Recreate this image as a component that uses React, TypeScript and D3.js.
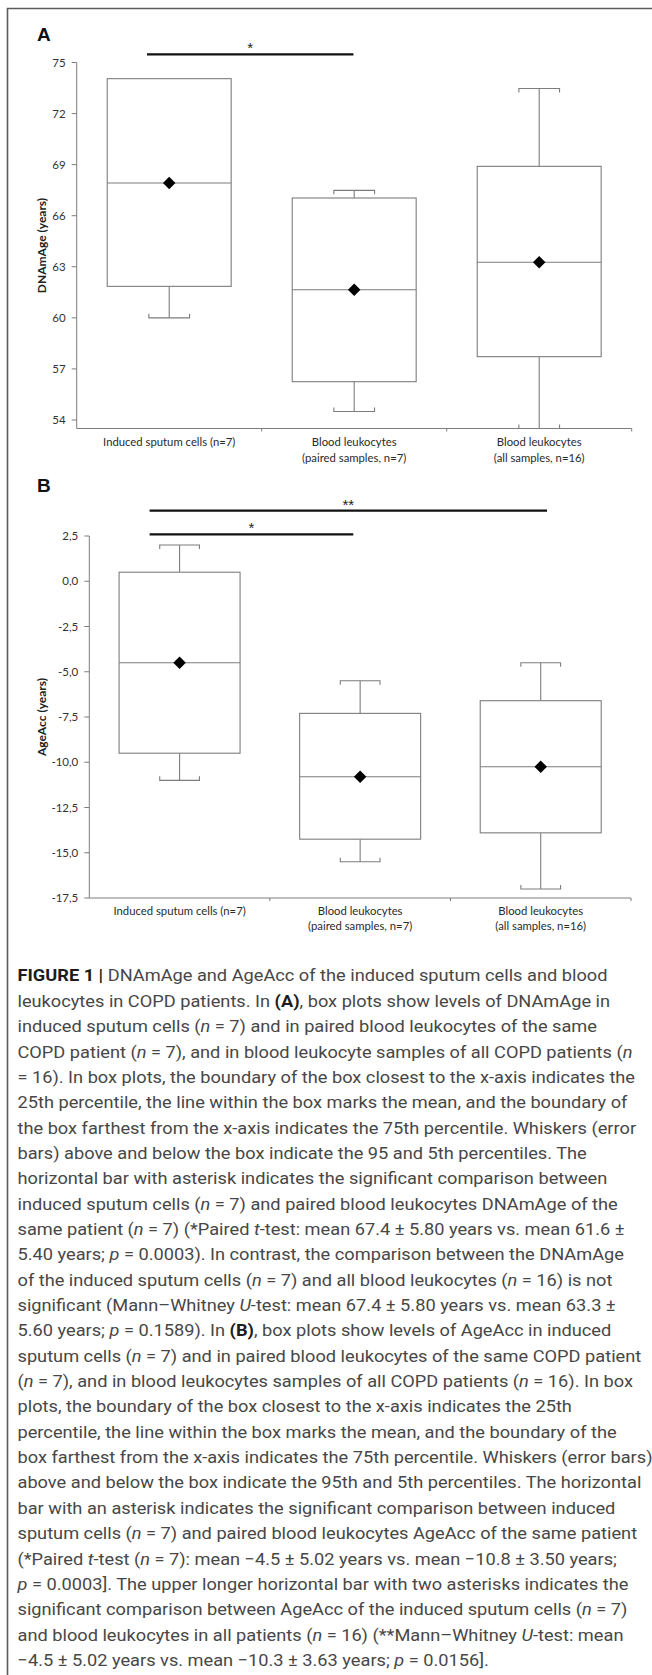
import { useLayoutEffect, useRef, useState } from 'react';
import * as d3 from 'd3';

// x categories shared by both panels (one entry per label line)
const categories = [
  ['Induced sputum cells (n=7)'],
  ['Blood leukocytes', '(paired samples, n=7)'],
  ['Blood leukocytes', '(all samples, n=16)'],
];

// Panel A – DNAmAge (years)
const dnamTicks = [54, 57, 60, 63, 66, 69, 72, 75];
const dnamP5 = [60.0, 54.5, 53.5];
const dnamQ1 = [61.85, 56.25, 57.72];
const dnamMean = [67.92, 61.65, 63.27];
const dnamQ3 = [74.05, 67.04, 68.9];
const dnamP95 = [73.98, 67.49, 73.47];
const dnamSig = [{ from: 0, to: 1, label: '*' }];

// Panel B – AgeAcc (years)
const accTicks = [-17.5, -15, -12.5, -10, -7.5, -5, -2.5, 0, 2.5];
const accP5 = [-11.0, -15.5, -17.0];
const accQ1 = [-9.5, -14.25, -13.9];
const accMean = [-4.5, -10.8, -10.25];
const accQ3 = [0.5, -7.3, -6.6];
const accP95 = [2.0, -5.5, -4.5];
const accSig = [
  { from: 0, to: 1, label: '*' },
  { from: 0, to: 2, label: '**' },
];

const captionLines = [
  '<b>FIGURE 1 |</b> DNAmAge and AgeAcc of the induced sputum cells and blood',
  'leukocytes in COPD patients. In <b>(A)</b>, box plots show levels of DNAmAge in',
  'induced sputum cells (<i>n</i> = 7) and in paired blood leukocytes of the same',
  'COPD patient (<i>n</i> = 7), and in blood leukocyte samples of all COPD patients (<i>n</i>',
  '= 16). In box plots, the boundary of the box closest to the x-axis indicates the',
  '25th percentile, the line within the box marks the mean, and the boundary of',
  'the box farthest from the x-axis indicates the 75th percentile. Whiskers (error',
  'bars) above and below the box indicate the 95 and 5th percentiles. The',
  'horizontal bar with asterisk indicates the significant comparison between',
  'induced sputum cells (<i>n</i> = 7) and paired blood leukocytes DNAmAge of the',
  'same patient (<i>n</i> = 7) (*Paired <i>t</i>-test: mean 67.4 ± 5.80 years vs. mean 61.6 ±',
  '5.40 years; <i>p</i> = 0.0003). In contrast, the comparison between the DNAmAge',
  'of the induced sputum cells (<i>n</i> = 7) and all blood leukocytes (<i>n</i> = 16) is not',
  'significant (Mann–Whitney <i>U</i>-test: mean 67.4 ± 5.80 years vs. mean 63.3 ±',
  '5.60 years; <i>p</i> = 0.1589). In <b>(B)</b>, box plots show levels of AgeAcc in induced',
  'sputum cells (<i>n</i> = 7) and in paired blood leukocytes of the same COPD patient',
  '(<i>n</i> = 7), and in blood leukocytes samples of all COPD patients (<i>n</i> = 16). In box',
  'plots, the boundary of the box closest to the x-axis indicates the 25th',
  'percentile, the line within the box marks the mean, and the boundary of the',
  'box farthest from the x-axis indicates the 75th percentile. Whiskers (error bars)',
  'above and below the box indicate the 95th and 5th percentiles. The horizontal',
  'bar with an asterisk indicates the significant comparison between induced',
  'sputum cells (<i>n</i> = 7) and paired blood leukocytes AgeAcc of the same patient',
  '(*Paired <i>t</i>-test (<i>n</i> = 7): mean −4.5 ± 5.02 years vs. mean −10.8 ± 3.50 years;',
  '<i>p</i> = 0.0003]. The upper longer horizontal bar with two asterisks indicates the',
  'significant comparison between AgeAcc of the induced sputum cells (<i>n</i> = 7)',
  'and blood leukocytes in all patients (<i>n</i> = 16) (**Mann–Whitney <i>U</i>-test: mean',
  '−4.5 ± 5.02 years vs. mean −10.3 ± 3.63 years; <i>p</i> = 0.0156].',
];

const W = 652;
const H = 1675;
const CHART_FONT = 'Lato, "Open Sans", sans-serif';
const GREY = '#7d7d7d';

interface Sig { from: number; to: number; label: string }

interface PanelProps {
  letter: string;
  letterY: number;
  yTitle: string;
  ticks: number[];
  fmt: (v: number) => string;
  domain: [number, number];
  left: number;
  right: number;
  top: number;
  bottom: number;
  p5: number[];
  q1: number[];
  mean: number[];
  q3: number[];
  p95: number[];
  sig: Sig[];
  sigRise: number[];
  sigStart: number;
  sigEnd: number[];
  labelGap: number;
}

function BoxPanel(p: PanelProps) {
  const x = d3.scaleBand<number>().domain(d3.range(categories.length)).range([p.left, p.right]);
  const y = d3.scaleLinear().domain(p.domain).range([p.bottom, p.top]);
  const bw = x.bandwidth();
  const boxW = bw * 0.67;
  const capW = bw * 0.22;
  const diamond = d3.symbol(d3.symbolSquare, 78)();
  const cx = (i: number) => (x(i) as number) + bw / 2;

  return (
    <g>
      <text x={37} y={p.letterY} fontFamily='"Liberation Sans", Arial, sans-serif' fontWeight="bold" fontSize={19} fill="#111">
        {p.letter}
      </text>

      {/* significance bars */}
      {p.sig.map((s, k) => {
        const x1 = (x(s.from) as number) + bw * p.sigStart;
        const x2 = (x(s.to) as number) + bw * p.sigEnd[k];
        const yy = p.top - p.sigRise[k];
        return (
          <g key={k}>
            <line x1={x1} x2={x2} y1={yy} y2={yy} stroke="#111" strokeWidth={2.2} />
            <text x={(x1 + x2) / 2} y={yy - 1} textAnchor="middle" fontFamily='"Liberation Sans", Arial, sans-serif' fontSize={15} fill="#222">
              {s.label}
            </text>
          </g>
        );
      })}

      {/* y axis */}
      <line x1={p.left} x2={p.left} y1={y(p.domain[1])} y2={p.bottom} stroke={GREY} strokeWidth={1} />
      {p.ticks.map((t) => (
        <g key={t} transform={`translate(0,${y(t)})`}>
          <line x1={p.left - 5} x2={p.left} stroke={GREY} strokeWidth={1} />
          <text x={p.left - 11} dy="0.36em" textAnchor="end" fontFamily={CHART_FONT} fontSize={11.5} fill="#333">
            {p.fmt(t)}
          </text>
        </g>
      ))}
      <text
        transform={`translate(46,${(p.top + p.bottom) / 2}) rotate(-90)`}
        textAnchor="middle"
        fontFamily={CHART_FONT}
        fontWeight="bold"
        fontSize={12}
        fill="#222"
      >
        {p.yTitle}
      </text>

      {/* x axis */}
      <line x1={p.left} x2={p.right} y1={p.bottom} y2={p.bottom} stroke={GREY} strokeWidth={1} />
      {categories.map((lines, i) => (
        <g key={i}>
          <line x1={(x(i) as number) + bw} x2={(x(i) as number) + bw} y1={p.bottom} y2={p.bottom + 3} stroke={GREY} />
          {lines.map((l, j) => (
            <text key={j} x={cx(i)} y={p.bottom + p.labelGap + j * 15.5} textAnchor="middle" fontFamily={CHART_FONT} fontSize={11.3} fill="#2a2a2a">
              {l}
            </text>
          ))}
        </g>
      ))}

      {/* boxes */}
      {categories.map((_, i) => {
        const c = cx(i);
        const yTop = y(p.q3[i]);
        const yBot = y(p.q1[i]);
        const yHi = y(p.p95[i]);
        const yLo = y(p.p5[i]);
        return (
          <g key={i} fill="none" stroke={GREY} strokeWidth={1.1}>
            <line x1={c} x2={c} y1={yTop} y2={yHi} />
            <path d={`M${c - capW / 2},${yHi + 4}V${yHi}H${c + capW / 2}V${yHi + 4}`} />
            <line x1={c} x2={c} y1={yBot} y2={yLo} />
            <path d={`M${c - capW / 2},${yLo - 4}V${yLo}H${c + capW / 2}V${yLo - 4}`} />
            <rect x={c - boxW / 2} y={yTop} width={boxW} height={yBot - yTop} fill="#fff" />
            <line x1={c - boxW / 2} x2={c + boxW / 2} y1={y(p.mean[i])} y2={y(p.mean[i])} />
            <path d={diamond as string} transform={`translate(${c},${y(p.mean[i])}) rotate(45)`} fill="#000" stroke="none" />
          </g>
        );
      })}
    </g>
  );
}

function parseLine(line: string) {
  const parts: { t: string; s?: string }[] = [];
  const re = /<(b|i)>(.*?)<\/\1>/g;
  let last = 0;
  let m: RegExpExecArray | null;
  while ((m = re.exec(line))) {
    if (m.index > last) parts.push({ t: line.slice(last, m.index) });
    parts.push({ t: m[2], s: m[1] });
    last = re.lastIndex;
  }
  if (last < line.length) parts.push({ t: line.slice(last) });
  return parts;
}

export default function App() {
  const refLine = useRef<SVGTextElement>(null);
  const [sx, setSx] = useState(0.88);

  // squeeze caption horizontally so that it wraps like the original typeset text
  useLayoutEffect(() => {
    const node = refLine.current;
    if (!node) return;
    const len = node.getComputedTextLength();
    if (len > 0) setSx(610.5 / len);
  }, []);

  const fmtB = (v: number) => d3.format('.1f')(v).replace('.', ',').replace('−', '-');

  return (
    <svg width={W} height={H} style={{ position: 'absolute', left: 0, top: 0, display: 'block', background: '#fff' }}>
      <rect width={W} height={H} fill="#fff" />
      <path d={`M7.5,${H}V8.5H${W}`} fill="none" stroke="#5c5c5c" strokeWidth={1.6} />

      <BoxPanel
        letter="A"
        letterY={40.5}
        yTitle="DNAmAge (years)"
        ticks={dnamTicks}
        fmt={(v) => String(v)}
        domain={[53.5, 75]}
        left={76.7}
        right={631.7}
        top={62.5}
        bottom={428.5}
        p5={dnamP5}
        q1={dnamQ1}
        mean={dnamMean}
        q3={dnamQ3}
        p95={dnamP95}
        sig={dnamSig}
        sigRise={[8.2]}
        sigStart={0.38}
        sigEnd={[0.496]}
        labelGap={17.5}
      />

      <BoxPanel
        letter="B"
        letterY={492}
        yTitle="AgeAcc (years)"
        ticks={accTicks}
        fmt={fmtB}
        domain={[-17.5, 2.5]}
        left={89.3}
        right={631}
        top={536}
        bottom={898}
        p5={accP5}
        q1={accQ1}
        mean={accMean}
        q3={accQ3}
        p95={accP95}
        sig={accSig}
        sigRise={[1.7, 25.3]}
        sigStart={0.334}
        sigEnd={[0.462, 0.535]}
        labelGap={16.5}
      />

      <g transform={`translate(17.5,0) scale(${sx},1)`} fontFamily='Roboto, "Liberation Sans", sans-serif' fontSize={17} fill="#474747">
        {captionLines.map((line, i) => (
          <text key={i} ref={i === 24 ? refLine : undefined} x={0} y={981.5 + i * 25.35} style={{ whiteSpace: 'pre' }}>
            {parseLine(line).map((s, k) => (
              <tspan
                key={k}
                fontWeight={s.s === 'b' ? 'bold' : undefined}
                fontStyle={s.s === 'i' ? 'italic' : undefined}
                fill={s.s === 'b' ? '#1c1c1c' : undefined}
              >
                {s.t}
              </tspan>
            ))}
          </text>
        ))}
      </g>
    </svg>
  );
}
